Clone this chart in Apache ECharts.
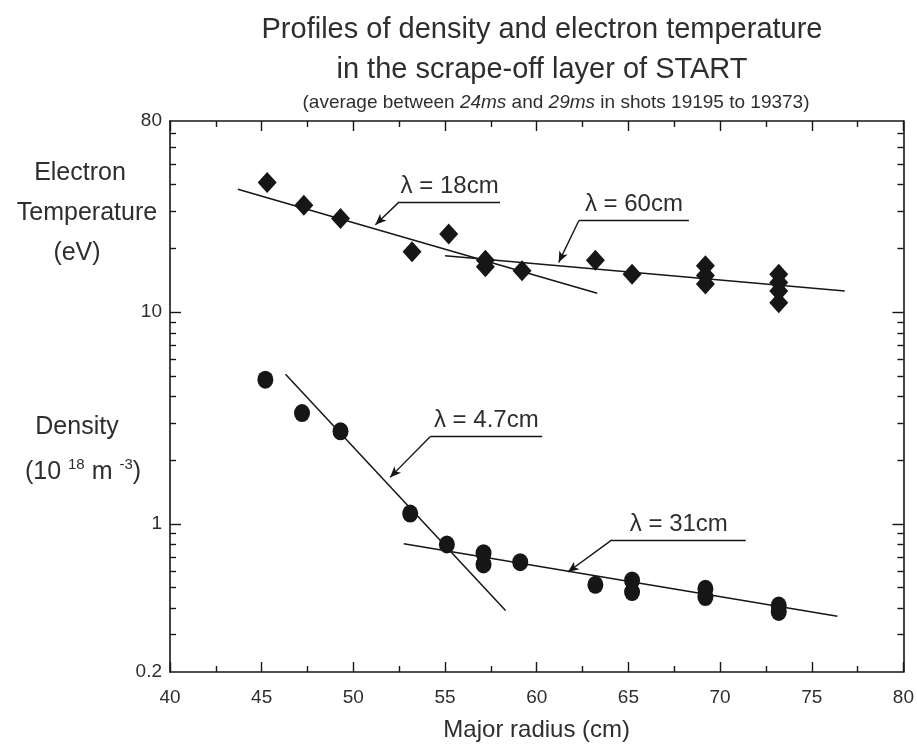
<!DOCTYPE html>
<html>
<head>
<meta charset="UTF-8">
<title>START scrape-off layer profiles</title>
<script src="https://cdn.jsdelivr.net/npm/echarts@6/dist/echarts.min.js"></script>
<style>
  html, body { margin: 0; padding: 0; background: #fff; }
  #chart { width: 917px; height: 751px; }
</style>
</head>
<body>
<div id="chart"></div>
<script>
// electron temperature (eV) vs major radius (cm)
var teRadius = [45.3, 47.3, 49.3, 53.2, 55.2, 57.2, 57.2, 59.2, 63.2, 65.2, 69.2, 69.2, 69.2, 73.2, 73.2, 73.2, 73.2];
var teValues = [41, 32, 27.7, 19.3, 23.4, 17.6, 16.4, 15.7, 17.6, 15.1, 16.6, 14.9, 13.6, 15.1, 13.8, 12.6, 11.1];

// density (10^18 m^-3) vs major radius (cm)
var neRadius = [45.2, 47.2, 49.3, 53.1, 55.1, 57.1, 57.1, 59.1, 63.2, 65.2, 65.2, 69.2, 69.2, 73.2, 73.2];
var neValues = [4.8, 3.34, 2.74, 1.12, 0.80, 0.728, 0.644, 0.66, 0.516, 0.541, 0.477, 0.494, 0.452, 0.412, 0.384];

// fitted decay lines, end points [radius, value]
var teFit18 = [[43.7, 38.1], [63.3, 12.3]];
var teFit60 = [[55.0, 18.5], [76.8, 12.6]];
var neFit47 = [[46.3, 5.1], [58.3, 0.39]];
var neFit31 = [[52.75, 0.806], [76.4, 0.367]];

// labels: text, underline from x, to x, at y, arrow tip x, tip y (data units)
var note18 = ['λ = 18cm', 52.5, 58.0, 33.2, 51.2, 25.9];
var note60 = ['λ = 60cm', 62.3, 68.3, 27.1, 61.2, 17.2];
var note47 = ['λ = 4.7cm', 54.2, 60.3, 2.59, 52.0, 1.66];
var note31 = ['λ = 31cm', 64.1, 71.4, 0.841, 61.7, 0.593];

var yLabelTicks = [0.2, 1, 10, 80];
var yMajorTicks = [1, 10];
var yMinorTicks = [0.3, 0.4, 0.5, 0.6, 0.7, 0.8, 0.9, 2, 3, 4, 5, 6, 7, 8, 9, 20, 30, 40, 50, 60, 70];

var ink = '#161616';
var textCol = '#2e2e2e';
var font = '"Liberation Sans", Arial, Helvetica, sans-serif';

var chart = echarts.init(document.getElementById('chart'));

function pairs(xs, ys) {
    return xs.map(function (x, i) { return [x, ys[i]]; });
}

function yAxis(pos, ticks, len, showLine, showLabel) {
    return {
        type: 'log', logBase: 10, min: 0.2, max: 80, position: pos,
        axisLine: { show: showLine, lineStyle: { color: ink, width: 1.6 } },
        axisTick: { show: true, inside: true, length: len, customValues: ticks, lineStyle: { color: ink, width: 1.4 } },
        axisLabel: { show: showLabel, customValues: yLabelTicks, margin: 8, color: textCol, fontSize: 19, fontFamily: font },
        splitLine: { show: false }
    };
}

function xAxis(pos, showLabel) {
    return {
        type: 'value', min: 40, max: 80, interval: 5, position: pos,
        axisLine: { show: true, lineStyle: { color: ink, width: 1.6 } },
        axisTick: { show: true, inside: true, length: 10, lineStyle: { color: ink, width: 1.4 } },
        minorTick: { show: true, splitNumber: 2, length: 6, lineStyle: { color: ink, width: 1.4 } },
        axisLabel: { show: showLabel, margin: 16, color: textCol, fontSize: 19, fontFamily: font },
        splitLine: { show: false },
        minorSplitLine: { show: false }
    };
}

function fitLine(points, note) {
    return {
        type: 'line', data: points, symbol: 'none', silent: true, z: 1,
        lineStyle: { color: ink, width: 1.5 },
        markLine: {
            silent: true, animation: false,
            symbol: ['none', 'arrow'], symbolSize: [7, 11],
            lineStyle: { color: ink, width: 1.4, type: 'solid' },
            label: { show: false },
            data: [
                [
                    { coord: [note[1], note[3]], symbol: 'none',
                      label: { show: true, position: 'insideMiddleTop', distance: 4, formatter: note[0],
                               color: textCol, fontSize: 24, fontFamily: font } },
                    { coord: [note[2], note[3]], symbol: 'none' }
                ],
                [
                    { coord: [note[1], note[3]] },
                    { coord: [note[4], note[5]] }
                ]
            ]
        }
    };
}

function label(text, x, y, size, rich) {
    var style = { text: text, x: x, y: y, textAlign: 'center', textVerticalAlign: 'middle',
                  fill: textCol, font: size + 'px ' + font };
    if (rich) style.rich = rich;
    return { type: 'text', silent: true, style: style };
}

var option = {
    animation: false,
    backgroundColor: '#fff',
    grid: { left: 170, right: 13, top: 121, bottom: 79 },
    xAxis: [
        Object.assign(xAxis('bottom', true), {
            name: 'Major radius (cm)', nameLocation: 'middle', nameGap: 46,
            nameTextStyle: { color: textCol, fontSize: 24, fontFamily: font }
        }),
        xAxis('top', false)
    ],
    yAxis: [
        yAxis('left', yMinorTicks, 6, true, true),
        yAxis('left', yMajorTicks, 11, false, false),
        yAxis('right', yMinorTicks, 6, true, false),
        yAxis('right', yMajorTicks, 11, false, false)
    ],
    graphic: [
        label('Profiles of density and electron temperature', 542, 30, 29),
        label('in the scrape-off layer of START', 542, 70, 29),
        label('(average between {i|24ms} and {i|29ms} in shots 19195 to 19373)', 556, 103, 19,
              { i: { fontStyle: 'italic', fontSize: 19, fontFamily: font, fill: textCol } }),
        label('Electron', 80, 173, 25),
        label('Temperature', 87, 213, 25),
        label('(eV)', 77, 253, 25),
        label('Density', 77, 427, 25),
        label('(10 {s|18} m {s|-3})', 83, 472, 25,
              { s: { fontSize: 15, fontFamily: font, fill: textCol, padding: [0, 0, 14, 0] } })
    ],
    series: [
        fitLine(teFit18, note18),
        fitLine(teFit60, note60),
        fitLine(neFit47, note47),
        fitLine(neFit31, note31),
        {
            name: 'Electron temperature', type: 'scatter', data: pairs(teRadius, teValues),
            symbol: 'diamond', symbolSize: [19, 21], itemStyle: { color: ink, opacity: 1 }, z: 3
        },
        {
            name: 'Density', type: 'scatter', data: pairs(neRadius, neValues),
            symbol: 'circle', symbolSize: [16, 18], itemStyle: { color: ink, opacity: 1 }, z: 3
        }
    ]
};

chart.setOption(option);
</script>
</body>
</html>
